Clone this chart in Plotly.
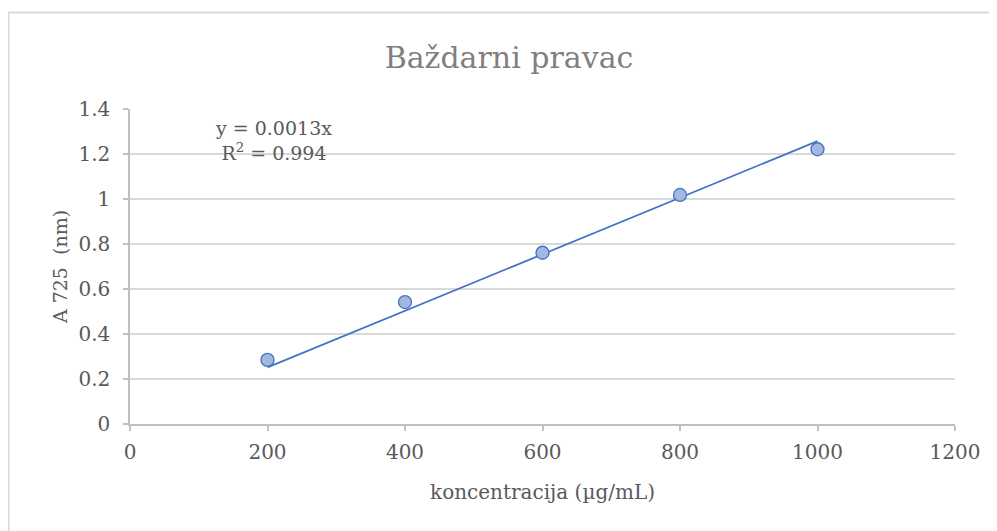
import numpy as np
import plotly.graph_objects as go

# Data
concentration = [200, 400, 600, 800, 1000]
absorbance = [0.285, 0.542, 0.761, 1.018, 1.221]
equation_text = "y = 0.0013x"
r2_text = "R<sup>2</sup> = 0.994"
x_ticks = [0, 200, 400, 600, 800, 1000, 1200]
y_ticks = [0, 0.2, 0.4, 0.6, 0.8, 1, 1.2, 1.4]
y_tick_labels = ["0", "0.2", "0.4", "0.6", "0.8", "1", "1.2", "1.4"]

# Linear trendline through the origin (least squares)
xa = np.array(concentration, dtype=float)
ya = np.array(absorbance, dtype=float)
slope = float((xa * ya).sum() / (xa * xa).sum())
trend_x = [concentration[0], concentration[-1]]
trend_y = [slope * v for v in trend_x]

OFF = 8  # page body margin
W, H = 997 - OFF, 531 - OFF
ML, MR, MT, MB = 130 - OFF, 42, 109 - OFF, 107
PW, PH = W - ML - MR, H - MT - MB

def px_x(px):  # page pixel -> paper x
    return (px - OFF - ML) / PW

def px_y(py):  # page pixel -> paper y
    return (H - MB - (py - OFF)) / PH

FONT = "DejaVu Serif"
TXT = "#595959"

fig = go.Figure()
fig.add_trace(go.Scatter(
    x=trend_x, y=trend_y, mode="lines",
    line=dict(color="#4472c4", width=1.75),
    hoverinfo="skip", showlegend=False,
))
fig.add_trace(go.Scatter(
    x=concentration, y=absorbance, mode="markers",
    marker=dict(size=13, color="#a2b8e0", line=dict(color="#4472c4", width=1.3)),
    showlegend=False,
))

fig.update_layout(
    width=W, height=H,
    margin=dict(l=ML, r=MR, t=MT, b=MB),
    paper_bgcolor="white", plot_bgcolor="white",
    font=dict(family=FONT, color=TXT),
    title=dict(text="Baždarni pravac", x=(509 - OFF) / W, xanchor="center",
               y=1 - (57 - OFF) / H, yanchor="middle",
               font=dict(family=FONT, size=30, color="#7f7f7f")),
    xaxis=dict(
        range=[0, 1200], tickvals=x_ticks, ticktext=[str(v) for v in x_ticks],
        showgrid=False, zeroline=False,
        showline=True, linecolor="#bfbfbf", linewidth=1.5,
        ticks="outside", ticklen=5, tickcolor="#bfbfbf", tickwidth=1.5,
        ticklabelstandoff=4,
        tickfont=dict(family=FONT, size=20, color=TXT),
        title=dict(text="koncentracija (µg/mL)", font=dict(family=FONT, size=20, color=TXT),
                   standoff=22),
        fixedrange=True,
    ),
    yaxis=dict(
        range=[0, 1.4], tickvals=y_ticks, ticktext=y_tick_labels,
        showgrid=True, gridcolor="#d9d9d9", gridwidth=1.5,
        zeroline=False,
        showline=True, linecolor="#bfbfbf", linewidth=1.5,
        ticks="outside", ticklen=5, tickcolor="#bfbfbf", tickwidth=1.5,
        ticklabelstandoff=9,
        tickfont=dict(family=FONT, size=20, color=TXT),
        title=dict(text="A 725  (nm)", font=dict(family=FONT, size=19, color=TXT),
                   standoff=6),
        fixedrange=True,
    ),
    showlegend=False,
)

# Equation annotation
fig.add_annotation(
    x=px_x(273), y=px_y(140), xref="paper", yref="paper",
    text=equation_text + "<br>" + r2_text, showarrow=False,
    xanchor="center", yanchor="middle", align="center",
    font=dict(family=FONT, size=19, color=TXT),
)

# Chart area border (left and top visible)
bx = px_x(8.5)
by = px_y(12.5)
fig.add_shape(type="line", xref="paper", yref="paper",
              x0=bx, x1=bx, y0=px_y(540), y1=by,
              line=dict(color="#d9d9d9", width=2))
fig.add_shape(type="line", xref="paper", yref="paper",
              x0=bx, x1=px_x(1010), y0=by, y1=by,
              line=dict(color="#d9d9d9", width=2))

fig.write_html("out.html")
